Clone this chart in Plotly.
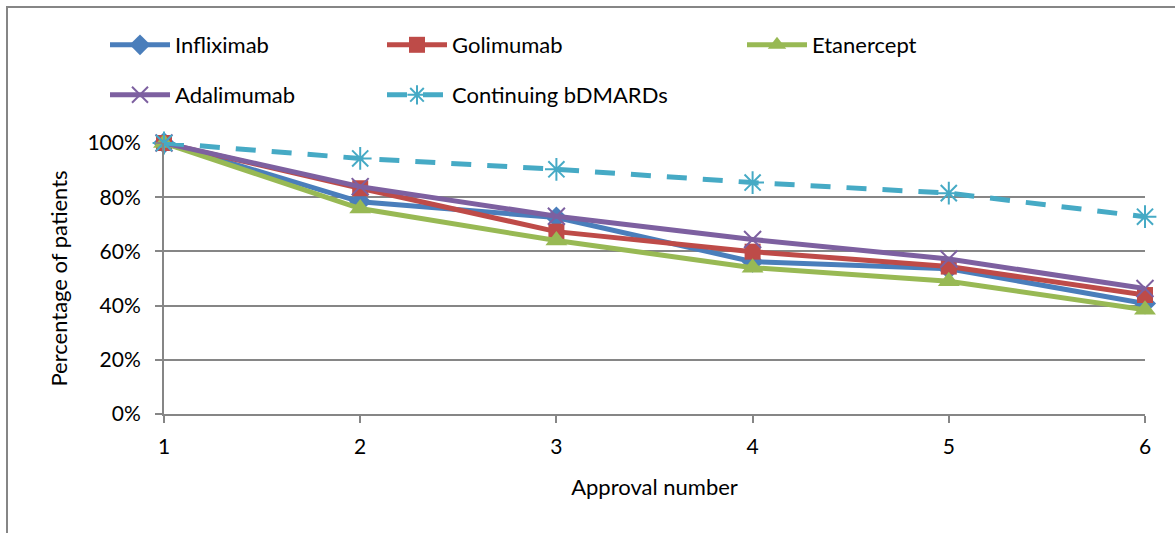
import plotly.graph_objects as go

approval = [1, 2, 3, 4, 5, 6]
infliximab = [100, 78.3, 72.5, 56.2, 53.6, 40.8]
golimumab = [100, 83.3, 67.3, 59.9, 54.4, 43.9]
etanercept = [100, 75.8, 64.0, 54.0, 49.0, 38.5]
adalimumab = [100, 83.9, 73.0, 64.4, 57.2, 46.3]
continuing = [100, 94.3, 90.3, 85.4, 81.5, 72.8]

FONT = "Lato"
fig = go.Figure()

def add(name, y, color, symbol, size, legend, dash="solid", open_sym=False):
    marker = dict(symbol=symbol, size=size, color=color)
    if open_sym:
        marker["line"] = dict(color=color, width=2)
    fig.add_trace(go.Scatter(
        x=approval, y=y, name=name, mode="lines+markers",
        line=dict(color=color, width=5, dash=dash),
        marker=marker, legend=legend, cliponaxis=False))

add("Infliximab", infliximab, "#4a7ebb", "diamond", 17, "legend")
add("Golimumab", golimumab, "#be4b48", "square", 16, "legend2")
add("Etanercept", etanercept, "#98b954", "triangle-up", 19, "legend3")
add("Adalimumab", adalimumab, "#7d60a0", "x-thin-open", 17, "legend4", open_sym=True)
add("Continuing bDMARDs", continuing, "#46aac5", "asterisk-open", 19, "legend5",
    dash="20px,16px", open_sym=True)

PLOT_W = 981
PLOT_H = 271

def leg(px_x, px_y):
    return dict(x=(px_x - 164) / PLOT_W, y=(414 - px_y) / PLOT_H,
                xanchor="left", yanchor="middle", orientation="v",
                font=dict(family=FONT, size=22, color="#000000"),
                bgcolor="rgba(0,0,0,0)", itemwidth=60)

fig.update_layout(
    width=1175, height=533,
    margin=dict(l=164, r=30, t=143, b=119),
    paper_bgcolor="white", plot_bgcolor="white",
    font=dict(family=FONT, size=21, color="#000000"),
    showlegend=True,
    legend=leg(105, 45),
    legend2=leg(382, 45),
    legend3=leg(742, 45),
    legend4=leg(105, 95),
    legend5=leg(382, 95),
    xaxis=dict(range=[1, 6], tickvals=approval, ticktext=[str(v) for v in approval],
               showgrid=False, zeroline=False, showline=True, linecolor="#868686",
               linewidth=2, ticks="outside", ticklen=7, tickcolor="#868686",
               tickwidth=2, tickfont=dict(family=FONT, size=21),
               ticklabelstandoff=6,
               title=dict(text="Approval number", font=dict(family=FONT, size=22),
                          standoff=22)),
    yaxis=dict(range=[0, 100], tickvals=[0, 20, 40, 60, 80, 100],
               ticktext=["0%", "20%", "40%", "60%", "80%", "100%"],
               showgrid=True, gridcolor="#868686", gridwidth=2, zeroline=False,
               showline=True, linecolor="#868686", linewidth=2,
               ticks="outside", ticklen=7, tickcolor="#868686", tickwidth=2,
               tickfont=dict(family=FONT, size=21), ticklabelstandoff=10,
               title=dict(text="Percentage of patients", font=dict(family=FONT, size=22),
                          standoff=14)),
)

# outer chart frame (left and top edges visible in the reference), in pixels
fig.add_shape(type="rect", xref="paper", yref="paper",
              xsizemode="pixel", ysizemode="pixel",
              xanchor=0, yanchor=1,
              x0=7 - 164, x1=1200 - 164,
              y0=-(533 + 30 - 143), y1=143 - 7,
              line=dict(color="#868686", width=2), fillcolor="rgba(0,0,0,0)",
              layer="above")

fig.write_html("out.html")
